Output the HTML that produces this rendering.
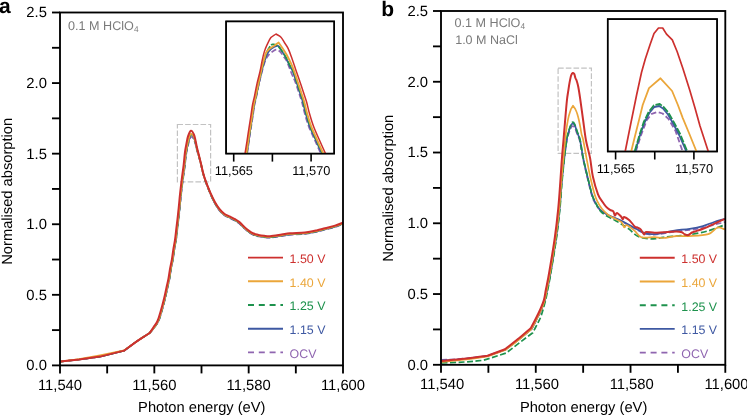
<!DOCTYPE html>
<html><head><meta charset="utf-8"><title>XANES</title>
<style>
html,body{margin:0;padding:0;background:#fff;}
body{width:747px;height:415px;overflow:hidden;font-family:"Liberation Sans",sans-serif;}
svg{display:block;will-change:transform;text-rendering:geometricPrecision;}
</style></head><body>
<svg width="747" height="415" viewBox="0 0 747 415">
<rect width="747" height="415" fill="#fff"/>
<defs>
<clipPath id="ca"><rect x="60.0" y="12.5" width="283.00" height="352.90"/></clipPath>
<clipPath id="cb"><rect x="441.0" y="11.0" width="284.30" height="353.80"/></clipPath>
<clipPath id="cli"><rect x="226.1" y="21.4" width="108.10" height="132.20"/></clipPath>
<clipPath id="cri"><rect x="607.7" y="19.1" width="109.40" height="132.40"/></clipPath>
</defs>
<text x="-1.1" y="12.8" font-size="21" font-weight="bold" font-family="Liberation Sans">a</text>
<text x="381.3" y="15.8" font-size="21" font-weight="bold" font-family="Liberation Sans">b</text>
<rect x="177.4" y="124.5" width="33.2" height="57.3" fill="none" stroke="#c2c2c2" stroke-width="1.2" stroke-dasharray="5.6 2.1"/>
<rect x="558.1" y="68.1" width="33.3" height="85.2" fill="none" stroke="#c2c2c2" stroke-width="1.2" stroke-dasharray="5.6 2.1"/>
<g clip-path="url(#ca)">
<path d="M60.30,361.60 L79.10,359.50 L100.00,356.60 L124.20,350.60 C127.57,348.10 131.18,345.32 134.30,343.10 C137.42,340.88 140.33,338.98 142.90,337.30 C145.47,335.62 147.43,334.43 149.70,333.00 C151.33,331.07 153.12,329.20 154.60,327.20 C156.08,325.20 157.42,323.62 158.60,321.00 C159.78,318.38 160.58,315.33 161.70,311.50 C162.82,307.67 164.32,302.00 165.30,298.00 C166.28,294.00 166.88,290.75 167.60,287.50 C168.32,284.25 169.02,281.58 169.60,278.50 C170.18,275.42 170.53,272.20 171.10,269.00 C171.67,265.80 172.45,262.54 173.00,259.31 C173.55,256.07 173.88,252.82 174.40,249.61 C174.92,246.40 175.60,243.48 176.10,240.04 C176.60,236.61 176.97,232.64 177.40,228.99 C177.83,225.35 178.30,221.67 178.70,218.19 C179.10,214.72 179.38,212.16 179.80,208.14 C180.22,204.11 180.68,198.70 181.20,194.03 C181.72,189.37 182.30,184.68 182.90,180.13 C183.50,175.58 184.27,170.92 184.80,166.75 C185.33,162.59 185.67,158.16 186.10,155.13 C186.53,152.10 186.90,150.83 187.40,148.57 C187.90,146.32 188.50,143.55 189.10,141.59 C189.70,139.62 190.20,137.16 191.00,136.79 C191.80,136.42 193.15,138.14 193.90,139.39 C194.65,140.64 194.98,142.43 195.50,144.28 C196.02,146.14 196.42,148.33 197.00,150.50 C197.58,152.66 198.32,154.83 199.00,157.26 C199.68,159.70 200.45,162.51 201.10,165.11 C201.75,167.72 202.23,170.36 202.90,172.88 C203.57,175.40 204.27,177.78 205.10,180.25 C205.93,182.72 206.93,185.23 207.90,187.71 C208.87,190.19 209.72,192.48 210.90,195.14 C212.08,197.81 213.52,201.07 215.00,203.70 C216.48,206.33 218.20,208.93 219.80,210.90 C221.40,212.87 222.98,214.33 224.60,215.50 C226.22,216.67 227.88,217.10 229.50,217.90 C231.12,218.70 232.70,219.38 234.30,220.30 C235.90,221.22 237.50,222.12 239.10,223.40 C240.70,224.68 242.30,226.55 243.90,228.00 C245.50,229.45 247.10,230.93 248.70,232.10 C250.30,233.27 251.88,234.28 253.50,235.00 C255.12,235.72 256.63,236.02 258.40,236.40 C260.17,236.78 262.17,237.08 264.10,237.30 C266.03,237.52 267.08,237.90 270.00,237.70 C272.92,237.50 278.27,236.58 281.60,236.10 C284.93,235.62 286.10,235.17 290.00,234.80 C293.90,234.43 300.58,234.38 305.00,233.90 C309.42,233.42 313.17,232.60 316.50,231.90 C319.83,231.20 321.92,230.50 325.00,229.70 C328.08,228.90 331.92,228.07 335.00,227.10 C338.08,226.13 340.67,224.97 343.50,223.90" fill="none" stroke="#8f65b0" stroke-width="1.7" stroke-dasharray="5.5 2.5" stroke-linejoin="round"/>
<path d="M60.30,361.60 L79.10,359.50 L100.00,356.60 L124.20,350.60 C127.57,348.10 131.18,345.32 134.30,343.10 C137.42,340.88 140.33,338.98 142.90,337.30 C145.47,335.62 147.43,334.43 149.70,333.00 C151.27,331.07 152.95,329.20 154.40,327.20 C155.85,325.20 157.22,323.62 158.40,321.00 C159.58,318.38 160.38,315.33 161.50,311.50 C162.62,307.67 164.12,302.00 165.10,298.00 C166.08,294.00 166.68,290.75 167.40,287.50 C168.12,284.25 168.82,281.58 169.40,278.50 C169.98,275.42 170.33,272.20 170.90,269.00 C171.47,265.80 172.25,262.54 172.80,259.30 C173.35,256.07 173.68,252.82 174.20,249.61 C174.72,246.40 175.40,243.47 175.90,240.03 C176.40,236.59 176.77,232.61 177.20,228.96 C177.63,225.31 178.10,221.61 178.50,218.12 C178.90,214.63 179.18,212.07 179.60,208.01 C180.02,203.96 180.48,198.52 181.00,193.80 C181.52,189.08 182.10,184.33 182.70,179.68 C183.30,175.03 184.07,170.21 184.60,165.93 C185.13,161.64 185.47,157.13 185.90,153.98 C186.33,150.84 186.70,149.46 187.20,147.08 C187.70,144.70 188.27,141.77 188.90,139.68 C189.53,137.60 190.17,134.94 191.00,134.59 C191.83,134.25 193.15,136.21 193.90,137.60 C194.65,138.98 194.98,140.92 195.50,142.90 C196.02,144.88 196.42,147.19 197.00,149.48 C197.58,151.77 198.32,154.10 199.00,156.64 C199.68,159.19 200.45,162.09 201.10,164.75 C201.75,167.41 202.23,170.07 202.90,172.62 C203.57,175.16 204.27,177.55 205.10,180.02 C205.93,182.49 206.93,184.97 207.90,187.44 C208.87,189.90 209.72,192.17 210.90,194.81 C212.08,197.46 213.52,200.69 215.00,203.30 C216.48,205.91 218.20,208.53 219.80,210.50 C221.40,212.47 222.98,213.93 224.60,215.10 C226.22,216.27 227.88,216.70 229.50,217.50 C231.12,218.30 232.70,218.98 234.30,219.90 C235.90,220.82 237.50,221.72 239.10,223.00 C240.70,224.28 242.30,226.15 243.90,227.60 C245.50,229.05 247.10,230.53 248.70,231.70 C250.30,232.87 251.88,233.88 253.50,234.60 C255.12,235.32 256.63,235.62 258.40,236.00 C260.17,236.38 262.17,236.68 264.10,236.90 C266.03,237.12 267.08,237.50 270.00,237.30 C272.92,237.10 278.27,236.18 281.60,235.70 C284.93,235.22 286.10,234.77 290.00,234.40 C293.90,234.03 300.58,233.98 305.00,233.50 C309.42,233.02 313.17,232.20 316.50,231.50 C319.83,230.80 321.92,230.10 325.00,229.30 C328.08,228.50 331.92,227.67 335.00,226.70 C338.08,225.73 340.67,224.57 343.50,223.50" fill="none" stroke="#3e58a2" stroke-width="1.7" stroke-linejoin="round"/>
<path d="M60.30,361.60 L79.10,359.50 L100.00,356.60 L124.20,350.60 C127.57,348.10 131.18,345.32 134.30,343.10 C137.42,340.88 140.33,338.98 142.90,337.30 C145.47,335.62 147.43,334.43 149.70,333.00 C151.27,331.07 152.95,329.20 154.40,327.20 C155.85,325.20 157.22,323.62 158.40,321.00 C159.58,318.38 160.38,315.33 161.50,311.50 C162.62,307.67 164.12,302.00 165.10,298.00 C166.08,294.00 166.68,290.75 167.40,287.50 C168.12,284.25 168.82,281.58 169.40,278.50 C169.98,275.42 170.33,272.20 170.90,269.00 C171.47,265.80 172.25,262.54 172.80,259.30 C173.35,256.07 173.68,252.82 174.20,249.61 C174.72,246.40 175.40,243.47 175.90,240.03 C176.40,236.58 176.77,232.61 177.20,228.96 C177.63,225.30 178.10,221.61 178.50,218.11 C178.90,214.62 179.18,212.05 179.60,208.00 C180.02,203.94 180.48,198.50 181.00,193.77 C181.52,189.04 182.10,184.28 182.70,179.62 C183.30,174.96 184.07,170.11 184.60,165.81 C185.13,161.52 185.47,156.98 185.90,153.83 C186.33,150.67 186.70,149.28 187.20,146.88 C187.70,144.48 188.27,141.52 188.90,139.43 C189.53,137.33 190.17,134.64 191.00,134.29 C191.83,133.95 193.15,135.95 193.90,137.35 C194.65,138.75 194.98,140.71 195.50,142.71 C196.02,144.70 196.42,147.03 197.00,149.33 C197.58,151.64 198.32,153.98 199.00,156.53 C199.68,159.09 200.45,161.99 201.10,164.66 C201.75,167.32 202.23,169.98 202.90,172.52 C203.57,175.07 204.27,177.45 205.10,179.91 C205.93,182.37 206.93,184.85 207.90,187.30 C208.87,189.76 209.72,192.01 210.90,194.65 C212.08,197.28 213.52,200.49 215.00,203.10 C216.48,205.71 218.20,208.33 219.80,210.30 C221.40,212.27 222.98,213.73 224.60,214.90 C226.22,216.07 227.88,216.50 229.50,217.30 C231.12,218.10 232.70,218.78 234.30,219.70 C235.90,220.62 237.50,221.52 239.10,222.80 C240.70,224.08 242.30,225.95 243.90,227.40 C245.50,228.85 247.10,230.33 248.70,231.50 C250.30,232.67 251.88,233.68 253.50,234.40 C255.12,235.12 256.63,235.42 258.40,235.80 C260.17,236.18 262.17,236.48 264.10,236.70 C266.03,236.92 267.08,237.30 270.00,237.10 C272.92,236.90 278.27,235.98 281.60,235.50 C284.93,235.02 286.10,234.57 290.00,234.20 C293.90,233.83 300.58,233.78 305.00,233.30 C309.42,232.82 313.17,232.00 316.50,231.30 C319.83,230.60 321.92,229.90 325.00,229.10 C328.08,228.30 331.92,227.47 335.00,226.50 C338.08,225.53 340.67,224.37 343.50,223.30" fill="none" stroke="#1e924d" stroke-width="1.7" stroke-dasharray="6 2.5" stroke-linejoin="round"/>
<path d="M60.30,361.60 L79.10,359.11 L100.00,355.30 L124.20,350.35 C127.57,347.93 131.18,345.27 134.30,343.10 C137.42,340.93 140.33,338.98 142.90,337.30 C145.47,335.62 147.43,334.43 149.70,333.00 C151.20,331.07 152.78,329.20 154.20,327.20 C155.62,325.20 157.02,323.62 158.20,321.00 C159.38,318.38 160.18,315.33 161.30,311.50 C162.42,307.67 163.92,302.00 164.90,298.00 C165.88,294.00 166.48,290.75 167.20,287.50 C167.92,284.25 168.62,281.58 169.20,278.50 C169.78,275.42 170.13,272.20 170.70,269.00 C171.27,265.80 172.05,262.53 172.60,259.30 C173.15,256.07 173.48,252.82 174.00,249.61 C174.52,246.39 175.20,243.46 175.70,240.02 C176.20,236.58 176.57,232.60 177.00,228.95 C177.43,225.29 177.90,221.59 178.30,218.10 C178.70,214.60 178.98,212.03 179.40,207.97 C179.82,203.91 180.28,198.46 180.80,193.72 C181.32,188.97 181.90,184.20 182.50,179.52 C183.10,174.83 183.87,169.95 184.40,165.63 C184.93,161.30 185.27,156.75 185.70,153.57 C186.13,150.38 186.50,148.97 187.00,146.54 C187.50,144.11 188.03,141.12 188.70,138.99 C189.37,136.87 190.13,134.14 191.00,133.79 C191.87,133.45 193.15,135.51 193.90,136.94 C194.65,138.38 194.98,140.37 195.50,142.39 C196.02,144.42 196.42,146.77 197.00,149.10 C197.58,151.43 198.32,153.80 199.00,156.37 C199.68,158.95 200.45,161.87 201.10,164.54 C201.75,167.22 202.23,169.88 202.90,172.42 C203.57,174.96 204.27,177.34 205.10,179.80 C205.93,182.26 206.93,184.72 207.90,187.17 C208.87,189.62 209.72,191.86 210.90,194.48 C212.08,197.10 213.52,200.30 215.00,202.90 C216.48,205.50 218.20,208.13 219.80,210.10 C221.40,212.07 222.98,213.53 224.60,214.70 C226.22,215.87 227.88,216.30 229.50,217.10 C231.12,217.90 232.70,218.58 234.30,219.50 C235.90,220.42 237.50,221.32 239.10,222.60 C240.70,223.88 242.30,225.75 243.90,227.20 C245.50,228.65 247.10,230.13 248.70,231.30 C250.30,232.47 251.88,233.48 253.50,234.20 C255.12,234.92 256.63,235.22 258.40,235.60 C260.17,235.98 262.17,236.28 264.10,236.50 C266.03,236.72 267.08,237.10 270.00,236.90 C272.92,236.70 278.27,235.78 281.60,235.30 C284.93,234.82 286.10,234.37 290.00,234.00 C293.90,233.63 300.58,233.58 305.00,233.10 C309.42,232.62 313.17,231.80 316.50,231.10 C319.83,230.40 321.92,229.70 325.00,228.90 C328.08,228.10 331.92,227.27 335.00,226.30 C338.08,225.33 340.67,224.17 343.50,223.10" fill="none" stroke="#eba63a" stroke-width="1.7" stroke-linejoin="round"/>
<path d="M60.30,361.60 L79.10,359.50 L100.00,356.60 L124.20,350.60 C127.57,348.10 131.18,345.32 134.30,343.10 C137.42,340.88 140.33,338.98 142.90,337.30 C145.47,335.62 147.43,334.43 149.70,333.00 C150.97,331.07 152.20,329.20 153.50,327.20 C154.80,325.20 156.32,323.62 157.50,321.00 C158.68,318.38 159.48,315.33 160.60,311.50 C161.72,307.67 163.22,302.00 164.20,298.00 C165.18,294.00 165.78,290.75 166.50,287.50 C167.22,284.25 167.92,281.58 168.50,278.50 C169.08,275.42 169.43,272.20 170.00,269.00 C170.57,265.80 171.35,262.53 171.90,259.30 C172.45,256.07 172.78,252.82 173.30,249.60 C173.82,246.38 174.50,243.45 175.00,240.00 C175.50,236.55 175.87,232.57 176.30,228.90 C176.73,225.23 177.20,221.52 177.60,218.00 C178.00,214.48 178.28,211.90 178.70,207.80 C179.12,203.70 179.58,198.22 180.10,193.40 C180.62,188.58 181.20,183.72 181.80,178.90 C182.40,174.08 183.17,168.98 183.70,164.50 C184.23,160.02 184.57,155.33 185.00,152.00 C185.43,148.67 185.80,147.10 186.30,144.50 C186.80,141.90 187.22,138.68 188.00,136.40 C188.78,134.12 190.02,131.12 191.00,130.80 C191.98,130.48 193.15,132.88 193.90,134.50 C194.65,136.12 194.98,138.30 195.50,140.50 C196.02,142.70 196.42,145.20 197.00,147.70 C197.58,150.20 198.32,152.78 199.00,155.50 C199.68,158.22 200.45,161.25 201.10,164.00 C201.75,166.75 202.23,169.43 202.90,172.00 C203.57,174.57 204.27,176.95 205.10,179.40 C205.93,181.85 206.93,184.28 207.90,186.70 C208.87,189.12 209.72,191.32 210.90,193.90 C212.08,196.48 213.52,199.62 215.00,202.20 C216.48,204.78 218.20,207.43 219.80,209.40 C221.40,211.37 222.98,212.83 224.60,214.00 C226.22,215.17 227.88,215.60 229.50,216.40 C231.12,217.20 232.70,217.88 234.30,218.80 C235.90,219.72 237.50,220.62 239.10,221.90 C240.70,223.18 242.30,225.05 243.90,226.50 C245.50,227.95 247.10,229.43 248.70,230.60 C250.30,231.77 251.88,232.78 253.50,233.50 C255.12,234.22 256.63,234.52 258.40,234.90 C260.17,235.28 262.17,235.58 264.10,235.80 C266.03,236.02 267.08,236.40 270.00,236.20 C272.92,236.00 278.27,235.08 281.60,234.60 C284.93,234.12 286.10,233.67 290.00,233.30 C293.90,232.93 300.58,232.88 305.00,232.40 C309.42,231.92 313.17,231.10 316.50,230.40 C319.83,229.70 321.92,229.00 325.00,228.20 C328.08,227.40 331.92,226.57 335.00,225.60 C338.08,224.63 340.67,223.47 343.50,222.40" fill="none" stroke="#cd302e" stroke-width="2.0" stroke-linejoin="round"/>
</g>
<g clip-path="url(#cb)">
<path d="M441.50,359.90 C449.03,359.47 456.43,359.28 464.10,358.60 C471.77,357.92 479.70,356.73 487.50,355.80 L505.40,349.60 C510.13,346.00 515.25,342.20 519.60,338.80 C523.95,335.40 527.53,332.40 531.50,329.20 C532.77,326.80 534.18,324.17 535.30,322.00 C536.42,319.83 537.28,318.07 538.20,316.20 C539.12,314.33 539.70,313.33 540.80,310.80 C541.90,308.27 543.77,304.47 544.80,301.00 C545.83,297.53 546.23,293.67 547.00,290.00 C547.77,286.33 548.63,282.92 549.40,279.00 C550.17,275.08 550.47,273.38 551.60,266.50 C552.73,259.62 554.87,247.32 556.20,237.70 C557.53,228.08 558.68,218.08 559.60,208.80 C560.52,199.52 560.97,190.13 561.70,182.00 C562.43,173.87 563.18,166.67 564.00,160.00 C564.82,153.33 565.80,146.47 566.60,142.00 C567.40,137.53 568.10,135.53 568.80,133.20 C569.50,130.87 570.15,129.17 570.80,128.00 C571.45,126.83 572.05,126.27 572.70,126.20 C573.35,126.13 573.95,126.30 574.70,127.60 C575.45,128.90 576.35,131.77 577.20,134.00 C578.05,136.23 578.85,136.98 579.80,141.00 C580.75,145.02 581.70,152.23 582.90,158.10 C584.10,163.97 585.57,170.17 587.00,176.20 C588.43,182.23 590.23,190.00 591.50,194.30 C592.77,198.60 593.27,199.47 594.60,202.00 C595.93,204.53 597.23,207.30 599.50,209.50 C601.77,211.70 604.53,213.25 608.20,215.20 C611.87,217.15 617.08,218.98 621.50,221.20 C625.92,223.42 630.73,226.40 634.70,228.50 C638.67,230.60 641.98,232.78 645.30,233.80 C648.62,234.82 651.50,234.67 654.60,234.60 C657.70,234.53 660.58,233.92 663.90,233.40 C667.22,232.88 670.20,232.07 674.50,231.50 C678.80,230.93 684.95,230.62 689.70,230.00 C694.45,229.38 699.02,228.67 703.00,227.80 C706.98,226.93 709.97,225.77 713.60,224.80 C717.23,223.83 721.07,222.93 724.80,222.00" fill="none" stroke="#8f65b0" stroke-width="1.7" stroke-dasharray="5.5 2.5" stroke-linejoin="round"/>
<path d="M441.50,360.70 C449.03,360.13 456.43,359.78 464.10,359.00 C471.77,358.22 479.70,357.00 487.50,356.00 L505.40,349.80 C510.13,346.13 515.25,342.23 519.60,338.80 C523.95,335.37 527.53,332.40 531.50,329.20 C532.77,326.80 534.18,324.17 535.30,322.00 C536.42,319.83 537.28,318.07 538.20,316.20 C539.12,314.33 539.70,313.33 540.80,310.80 C541.90,308.27 543.77,304.47 544.80,301.00 C545.83,297.53 546.23,293.67 547.00,290.00 C547.77,286.33 548.63,282.92 549.40,279.00 C550.17,275.08 550.47,273.38 551.60,266.50 C552.73,259.62 554.87,247.32 556.20,237.70 C557.53,228.08 558.68,218.08 559.60,208.80 C560.52,199.52 560.97,190.13 561.70,182.00 C562.43,173.87 563.18,167.00 564.00,160.00 C564.82,153.00 565.78,144.83 566.60,140.00 C567.42,135.17 568.17,133.45 568.90,131.00 C569.63,128.55 570.37,126.53 571.00,125.30 C571.63,124.07 572.08,123.65 572.70,123.60 C573.32,123.55 573.95,123.52 574.70,125.00 C575.45,126.48 576.30,129.92 577.20,132.50 C578.10,135.08 579.10,136.23 580.10,140.50 C581.10,144.77 581.98,152.15 583.20,158.10 C584.42,164.05 585.95,170.17 587.40,176.20 C588.85,182.23 590.63,190.00 591.90,194.30 C593.17,198.60 593.65,199.47 595.00,202.00 C596.35,204.53 597.80,207.35 600.00,209.50 C602.20,211.65 604.62,213.02 608.20,214.90 C611.78,216.78 617.08,218.60 621.50,220.80 C625.92,223.00 630.73,226.00 634.70,228.10 C638.67,230.20 641.98,232.40 645.30,233.40 C648.62,234.40 651.50,234.22 654.60,234.10 C657.70,233.98 660.58,233.30 663.90,232.70 C667.22,232.10 670.20,231.15 674.50,230.50 C678.80,229.85 684.95,229.53 689.70,228.80 C694.45,228.07 699.02,227.20 703.00,226.10 C706.98,225.00 709.97,223.42 713.60,222.20 C717.23,220.98 721.07,219.93 724.80,218.80" fill="none" stroke="#3e58a2" stroke-width="1.7" stroke-linejoin="round"/>
<path d="M441.50,363.00 C449.03,362.67 457.12,362.45 464.10,362.00 C471.08,361.55 476.97,360.87 483.40,360.30 L506.30,353.00 C510.63,349.63 514.88,346.27 519.30,342.90 C523.72,339.53 528.30,336.17 532.80,332.80 C533.87,330.70 535.05,328.35 536.00,326.50 C536.95,324.65 537.60,323.62 538.50,321.70 C539.40,319.78 540.22,318.60 541.40,315.00 C542.58,311.40 544.55,304.27 545.60,300.10 C546.65,295.93 547.00,293.52 547.70,290.00 C548.40,286.48 549.10,282.92 549.80,279.00 C550.50,275.08 550.78,273.38 551.90,266.50 C553.02,259.62 555.17,247.32 556.50,237.70 C557.83,228.08 558.98,218.08 559.90,208.80 C560.82,199.52 561.28,190.13 562.00,182.00 C562.72,173.87 563.40,167.17 564.20,160.00 C565.00,152.83 565.97,144.08 566.80,139.00 C567.63,133.92 568.47,132.00 569.20,129.50 C569.93,127.00 570.60,125.22 571.20,124.00 C571.80,122.78 572.23,122.20 572.80,122.20 C573.37,122.20 573.87,122.45 574.60,124.00 C575.33,125.55 576.28,128.83 577.20,131.50 C578.12,134.17 579.10,135.57 580.10,140.00 C581.10,144.43 581.98,152.07 583.20,158.10 C584.42,164.13 585.95,170.17 587.40,176.20 C588.85,182.23 590.63,190.08 591.90,194.30 C593.17,198.52 593.60,198.73 595.00,201.50 C596.40,204.27 598.10,208.33 600.30,210.90 C602.50,213.47 605.77,215.35 608.20,216.90 C610.63,218.45 612.60,218.93 614.90,220.20 C617.20,221.47 619.58,222.97 622.00,224.50 C624.42,226.03 626.83,227.47 629.40,229.40 C631.97,231.33 634.30,234.55 637.40,236.10 C640.50,237.65 644.92,238.27 648.00,238.70 C651.08,239.13 653.37,238.92 655.90,238.70 C658.43,238.48 659.77,237.85 663.20,237.40 C666.63,236.95 672.08,236.45 676.50,236.00 C680.92,235.55 684.40,235.57 689.70,234.70 C695.00,233.83 702.45,232.45 708.30,230.80 C714.15,229.15 719.30,226.80 724.80,224.80" fill="none" stroke="#1e924d" stroke-width="1.7" stroke-dasharray="6 2.5" stroke-linejoin="round"/>
<path d="M441.50,361.90 C449.03,361.13 456.43,360.50 464.10,359.60 C471.77,358.70 479.70,357.53 487.50,356.50 L505.40,350.00 C510.13,346.33 515.27,342.50 519.60,339.00 C523.93,335.50 527.47,332.33 531.40,329.00 C532.70,326.60 534.17,323.97 535.30,321.80 C536.43,319.63 537.28,317.88 538.20,316.00 C539.12,314.12 539.75,312.98 540.80,310.50 C541.85,308.02 543.52,304.52 544.50,301.10 C545.48,297.68 545.97,293.68 546.70,290.00 C547.43,286.32 548.17,282.92 548.90,279.00 C549.63,275.08 549.97,273.38 551.10,266.50 C552.23,259.62 554.35,247.32 555.70,237.70 C557.05,228.08 558.27,218.08 559.20,208.80 C560.13,199.52 560.62,190.13 561.30,182.00 C561.98,173.87 562.68,166.83 563.30,160.00 C563.92,153.17 564.57,145.53 565.00,141.00 C565.43,136.47 565.55,135.53 565.90,132.80 C566.25,130.07 566.63,127.33 567.10,124.60 C567.57,121.87 568.08,118.93 568.70,116.40 C569.32,113.87 570.10,111.73 570.80,109.40 L573.00,105.70 L575.30,109.00 C575.97,110.63 576.68,111.98 577.30,113.90 C577.92,115.82 578.45,118.03 579.00,120.50 C579.55,122.97 580.17,126.37 580.60,128.70 C581.03,131.03 581.17,132.62 581.60,134.50 C582.03,136.38 582.38,136.07 583.20,140.00 C584.02,143.93 585.35,152.07 586.50,158.10 C587.65,164.13 588.75,170.17 590.10,176.20 C591.45,182.23 593.37,190.07 594.60,194.30 C595.83,198.53 596.28,199.18 597.50,201.60 C598.72,204.02 600.12,206.58 601.90,208.80 C603.68,211.02 606.10,213.28 608.20,214.90 C610.30,216.52 612.28,217.28 614.50,218.50 C616.72,219.72 619.90,220.73 621.50,222.20 C623.10,223.67 623.22,226.80 624.10,227.30 C624.98,227.80 625.03,224.62 626.80,225.20 C628.57,225.78 632.27,228.80 634.70,230.80 C637.13,232.80 638.08,236.15 641.40,237.20 C644.72,238.25 650.97,236.97 654.60,237.10 C658.23,237.23 659.55,238.17 663.20,238.00 C666.85,237.83 672.08,236.42 676.50,236.10 C680.92,235.78 684.40,236.43 689.70,236.10 C695.00,235.77 703.67,235.53 708.30,234.10 C712.93,232.67 714.75,228.28 717.50,227.50 C720.25,226.72 722.37,228.77 724.80,229.40" fill="none" stroke="#eba63a" stroke-width="1.7" stroke-linejoin="round"/>
<path d="M441.50,361.00 C449.03,360.27 456.43,359.68 464.10,358.80 C471.77,357.92 479.70,356.73 487.50,355.70 L505.00,349.20 C509.77,345.50 514.98,341.63 519.30,338.10 C523.62,334.57 527.03,331.37 530.90,328.00 C532.17,325.60 533.58,322.97 534.70,320.80 C535.82,318.63 536.68,316.88 537.60,315.00 C538.52,313.12 539.15,311.98 540.20,309.50 C541.25,307.02 542.97,303.35 543.90,300.10 C544.83,296.85 545.12,293.52 545.80,290.00 C546.48,286.48 547.27,282.92 548.00,279.00 C548.73,275.08 549.07,273.38 550.20,266.50 C551.33,259.62 553.47,247.32 554.80,237.70 C556.13,228.08 557.28,218.08 558.20,208.80 C559.12,199.52 559.70,190.13 560.30,182.00 C560.90,173.87 561.27,167.00 561.80,160.00 C562.33,153.00 562.97,146.33 563.50,140.00 C564.03,133.67 564.43,128.58 565.00,122.00 C565.57,115.42 566.35,105.73 566.90,100.50 C567.45,95.27 567.85,93.62 568.30,90.60 C568.75,87.58 569.12,84.97 569.60,82.40 C570.08,79.83 570.67,76.77 571.20,75.20 C571.73,73.63 572.28,73.20 572.80,73.00 C573.32,72.80 573.87,73.17 574.30,74.00 C574.73,74.83 575.03,76.97 575.40,78.00 C575.77,79.03 576.13,79.47 576.50,80.20 C577.07,82.30 577.58,83.40 578.20,86.50 C578.82,89.60 579.38,93.22 580.20,98.80 C581.02,104.38 582.13,113.05 583.10,120.00 C584.07,126.95 584.83,134.15 586.00,140.50 C587.17,146.85 588.97,152.15 590.10,158.10 C591.23,164.05 591.48,170.17 592.80,176.20 C594.12,182.23 596.37,190.00 598.00,194.30 C599.63,198.60 601.27,199.95 602.60,202.00 C603.93,204.05 604.77,205.30 606.00,206.60 C607.23,207.90 608.78,209.00 610.00,209.80 C611.22,210.60 612.48,210.43 613.30,211.40 C614.12,212.37 614.30,215.35 614.90,215.60 C615.50,215.85 615.92,212.80 616.90,212.90 C617.88,213.00 619.82,215.15 620.80,216.20 C621.78,217.25 622.25,219.08 622.80,219.20 C623.35,219.32 623.00,216.73 624.10,216.90 C625.20,217.07 627.63,218.62 629.40,220.20 C631.17,221.78 633.37,225.18 634.70,226.40 C636.03,227.62 636.40,227.00 637.40,227.50 C638.40,228.00 639.60,228.27 640.70,229.40 C641.80,230.53 643.12,233.85 644.00,234.30 C644.88,234.75 644.23,232.37 646.00,232.10 C647.77,231.83 651.62,232.68 654.60,232.70 C657.58,232.72 660.25,232.38 663.90,232.20 C667.55,232.02 673.52,231.58 676.50,231.60 C679.48,231.62 680.47,231.87 681.80,232.30 C683.13,232.73 683.47,233.72 684.50,234.20 C685.53,234.68 686.75,235.48 688.00,235.20 C689.25,234.92 690.67,233.17 692.00,232.50 C693.33,231.83 694.17,231.82 696.00,231.20 C697.83,230.58 700.07,229.98 703.00,228.80 C705.93,227.62 709.97,225.77 713.60,224.10 C717.23,222.43 721.07,220.57 724.80,218.80" fill="none" stroke="#cd302e" stroke-width="2.0" stroke-linejoin="round"/>
</g>
<rect x="60.0" y="12.5" width="283.00" height="352.90" fill="none" stroke="#000" stroke-width="1.85"/>
<line x1="52.0" y1="365.40" x2="60.0" y2="365.40" stroke="#000" stroke-width="1.85"/>
<text x="46.9" y="370.30" font-size="14.8" text-anchor="end" font-family="Liberation Sans">0.0</text>
<line x1="52.0" y1="330.11" x2="60.0" y2="330.11" stroke="#000" stroke-width="1.85"/>
<line x1="52.0" y1="294.82" x2="60.0" y2="294.82" stroke="#000" stroke-width="1.85"/>
<text x="46.9" y="299.72" font-size="14.8" text-anchor="end" font-family="Liberation Sans">0.5</text>
<line x1="52.0" y1="259.53" x2="60.0" y2="259.53" stroke="#000" stroke-width="1.85"/>
<line x1="52.0" y1="224.24" x2="60.0" y2="224.24" stroke="#000" stroke-width="1.85"/>
<text x="46.9" y="229.14" font-size="14.8" text-anchor="end" font-family="Liberation Sans">1.0</text>
<line x1="52.0" y1="188.95" x2="60.0" y2="188.95" stroke="#000" stroke-width="1.85"/>
<line x1="52.0" y1="153.66" x2="60.0" y2="153.66" stroke="#000" stroke-width="1.85"/>
<text x="46.9" y="158.56" font-size="14.8" text-anchor="end" font-family="Liberation Sans">1.5</text>
<line x1="52.0" y1="118.37" x2="60.0" y2="118.37" stroke="#000" stroke-width="1.85"/>
<line x1="52.0" y1="83.08" x2="60.0" y2="83.08" stroke="#000" stroke-width="1.85"/>
<text x="46.9" y="87.98" font-size="14.8" text-anchor="end" font-family="Liberation Sans">2.0</text>
<line x1="52.0" y1="47.79" x2="60.0" y2="47.79" stroke="#000" stroke-width="1.85"/>
<line x1="52.0" y1="12.50" x2="60.0" y2="12.50" stroke="#000" stroke-width="1.85"/>
<text x="46.9" y="17.40" font-size="14.8" text-anchor="end" font-family="Liberation Sans">2.5</text>
<line x1="60.00" y1="365.4" x2="60.00" y2="373.4" stroke="#000" stroke-width="1.85"/>
<text x="60.00" y="390.00" font-size="14.8" text-anchor="middle" font-family="Liberation Sans">11,540</text>
<line x1="107.17" y1="365.4" x2="107.17" y2="373.4" stroke="#000" stroke-width="1.85"/>
<line x1="154.33" y1="365.4" x2="154.33" y2="373.4" stroke="#000" stroke-width="1.85"/>
<text x="154.33" y="390.00" font-size="14.8" text-anchor="middle" font-family="Liberation Sans">11,560</text>
<line x1="201.50" y1="365.4" x2="201.50" y2="373.4" stroke="#000" stroke-width="1.85"/>
<line x1="248.67" y1="365.4" x2="248.67" y2="373.4" stroke="#000" stroke-width="1.85"/>
<text x="248.67" y="390.00" font-size="14.8" text-anchor="middle" font-family="Liberation Sans">11,580</text>
<line x1="295.83" y1="365.4" x2="295.83" y2="373.4" stroke="#000" stroke-width="1.85"/>
<line x1="343.00" y1="365.4" x2="343.00" y2="373.4" stroke="#000" stroke-width="1.85"/>
<text x="343.00" y="390.00" font-size="14.8" text-anchor="middle" font-family="Liberation Sans">11,600</text>
<rect x="441.0" y="11.0" width="284.30" height="353.80" fill="none" stroke="#000" stroke-width="1.85"/>
<line x1="433.0" y1="364.80" x2="441.0" y2="364.80" stroke="#000" stroke-width="1.85"/>
<text x="428.1" y="369.70" font-size="14.8" text-anchor="end" font-family="Liberation Sans">0.0</text>
<line x1="433.0" y1="329.42" x2="441.0" y2="329.42" stroke="#000" stroke-width="1.85"/>
<line x1="433.0" y1="294.04" x2="441.0" y2="294.04" stroke="#000" stroke-width="1.85"/>
<text x="428.1" y="298.94" font-size="14.8" text-anchor="end" font-family="Liberation Sans">0.5</text>
<line x1="433.0" y1="258.66" x2="441.0" y2="258.66" stroke="#000" stroke-width="1.85"/>
<line x1="433.0" y1="223.28" x2="441.0" y2="223.28" stroke="#000" stroke-width="1.85"/>
<text x="428.1" y="228.18" font-size="14.8" text-anchor="end" font-family="Liberation Sans">1.0</text>
<line x1="433.0" y1="187.90" x2="441.0" y2="187.90" stroke="#000" stroke-width="1.85"/>
<line x1="433.0" y1="152.52" x2="441.0" y2="152.52" stroke="#000" stroke-width="1.85"/>
<text x="428.1" y="157.42" font-size="14.8" text-anchor="end" font-family="Liberation Sans">1.5</text>
<line x1="433.0" y1="117.14" x2="441.0" y2="117.14" stroke="#000" stroke-width="1.85"/>
<line x1="433.0" y1="81.76" x2="441.0" y2="81.76" stroke="#000" stroke-width="1.85"/>
<text x="428.1" y="86.66" font-size="14.8" text-anchor="end" font-family="Liberation Sans">2.0</text>
<line x1="433.0" y1="46.38" x2="441.0" y2="46.38" stroke="#000" stroke-width="1.85"/>
<line x1="433.0" y1="11.00" x2="441.0" y2="11.00" stroke="#000" stroke-width="1.85"/>
<text x="428.1" y="15.90" font-size="14.8" text-anchor="end" font-family="Liberation Sans">2.5</text>
<line x1="441.00" y1="364.8" x2="441.00" y2="372.8" stroke="#000" stroke-width="1.85"/>
<text x="442.20" y="389.40" font-size="14.8" text-anchor="middle" font-family="Liberation Sans">11,540</text>
<line x1="488.38" y1="364.8" x2="488.38" y2="372.8" stroke="#000" stroke-width="1.85"/>
<line x1="535.77" y1="364.8" x2="535.77" y2="372.8" stroke="#000" stroke-width="1.85"/>
<text x="536.97" y="389.40" font-size="14.8" text-anchor="middle" font-family="Liberation Sans">11,560</text>
<line x1="583.15" y1="364.8" x2="583.15" y2="372.8" stroke="#000" stroke-width="1.85"/>
<line x1="630.53" y1="364.8" x2="630.53" y2="372.8" stroke="#000" stroke-width="1.85"/>
<text x="631.73" y="389.40" font-size="14.8" text-anchor="middle" font-family="Liberation Sans">11,580</text>
<line x1="677.92" y1="364.8" x2="677.92" y2="372.8" stroke="#000" stroke-width="1.85"/>
<line x1="725.30" y1="364.8" x2="725.30" y2="372.8" stroke="#000" stroke-width="1.85"/>
<text x="726.50" y="389.40" font-size="14.8" text-anchor="middle" font-family="Liberation Sans">11,600</text>
<rect x="226.1" y="21.4" width="108.10" height="132.20" fill="#fff" stroke="#000" stroke-width="1.5"/>
<line x1="233.70" y1="153.6" x2="233.70" y2="161.6" stroke="#000" stroke-width="1.6"/>
<line x1="272.40" y1="153.6" x2="272.40" y2="161.6" stroke="#000" stroke-width="1.6"/>
<line x1="311.10" y1="153.6" x2="311.10" y2="161.6" stroke="#000" stroke-width="1.6"/>
<text x="233.90" y="174.60" font-size="12.8" text-anchor="middle" font-family="Liberation Sans">11,565</text>
<text x="311.30" y="174.60" font-size="12.8" text-anchor="middle" font-family="Liberation Sans">11,570</text>
<g clip-path="url(#cli)">
<path d="M247.20,153.60 C247.80,149.43 248.40,145.18 249.00,141.10 C249.60,137.02 250.18,133.12 250.80,129.10 C251.42,125.08 252.08,121.02 252.70,117.00 C253.32,112.98 253.87,108.48 254.50,105.00 C255.13,101.52 255.77,99.58 256.50,96.10 C257.23,92.62 258.00,88.12 258.90,84.10 C259.80,80.08 260.78,76.05 261.90,72.00 C263.02,67.95 264.33,62.80 265.60,59.80 C266.87,56.80 268.22,55.45 269.50,54.00 C270.78,52.55 272.10,51.82 273.30,51.10 C274.50,50.38 275.58,49.62 276.70,49.70 C277.82,49.78 278.80,50.40 280.00,51.60 C281.20,52.80 282.77,55.30 283.90,56.90 C285.03,58.50 285.45,58.27 286.80,61.20 C288.15,64.13 290.60,71.08 292.00,74.50 C293.40,77.92 294.07,78.70 295.20,81.70 C296.33,84.70 297.68,89.12 298.80,92.50 C299.92,95.88 300.92,98.53 301.90,102.00 C302.88,105.47 303.55,109.20 304.70,113.30 C305.85,117.40 307.13,122.18 308.80,126.60 C310.47,131.02 312.70,135.30 314.70,139.80 C316.70,144.30 318.77,149.00 320.80,153.60" fill="none" stroke="#8f65b0" stroke-width="1.7" stroke-dasharray="5.5 2.6" stroke-linejoin="round"/>
<path d="M246.80,153.60 C247.40,149.43 248.00,145.18 248.60,141.10 C249.20,137.02 249.78,133.12 250.40,129.10 C251.02,125.08 251.68,121.02 252.30,117.00 C252.92,112.98 253.45,108.48 254.10,105.00 C254.75,101.52 255.43,99.58 256.20,96.10 C256.97,92.62 257.82,88.12 258.70,84.10 C259.58,80.08 260.70,75.25 261.50,72.00 C262.30,68.75 262.58,67.52 263.50,64.60 C264.42,61.68 265.67,57.18 267.00,54.50 C268.33,51.82 269.65,49.93 271.50,48.50 C273.35,47.07 276.35,45.43 278.10,45.90 C279.85,46.37 280.68,49.32 282.00,51.30 C283.32,53.28 284.67,55.27 286.00,57.80 C287.33,60.33 288.90,64.33 290.00,66.50 C291.10,68.67 291.55,68.27 292.60,70.80 C293.65,73.33 295.10,78.08 296.30,81.70 C297.50,85.32 298.70,89.12 299.80,92.50 C300.90,95.88 301.92,98.53 302.90,102.00 C303.88,105.47 304.55,109.20 305.70,113.30 C306.85,117.40 308.13,122.18 309.80,126.60 C311.47,131.02 313.68,135.30 315.70,139.80 C317.72,144.30 319.83,149.00 321.90,153.60" fill="none" stroke="#3e58a2" stroke-width="1.7" stroke-linejoin="round"/>
<path d="M246.60,153.60 C247.20,149.43 247.80,145.18 248.40,141.10 C249.00,137.02 249.58,133.12 250.20,129.10 C250.82,125.08 251.48,121.02 252.10,117.00 C252.72,112.98 253.25,108.48 253.90,105.00 C254.55,101.52 255.23,99.58 256.00,96.10 C256.77,92.62 257.63,88.12 258.50,84.10 C259.37,80.08 260.45,75.25 261.20,72.00 C261.95,68.75 262.13,67.77 263.00,64.60 C263.87,61.43 265.08,56.22 266.40,53.00 C267.72,49.78 269.67,46.73 270.90,45.30 C272.13,43.87 272.70,44.32 273.80,44.40 C274.90,44.48 276.13,44.70 277.50,45.80 C278.87,46.90 280.58,49.05 282.00,51.00 C283.42,52.95 284.63,55.00 286.00,57.50 C287.37,60.00 289.03,63.78 290.20,66.00 C291.37,68.22 291.92,68.18 293.00,70.80 C294.08,73.42 295.50,78.08 296.70,81.70 C297.90,85.32 299.10,89.12 300.20,92.50 C301.30,95.88 302.32,98.53 303.30,102.00 C304.28,105.47 304.93,109.20 306.10,113.30 C307.27,117.40 308.62,122.18 310.30,126.60 C311.98,131.02 314.18,135.30 316.20,139.80 C318.22,144.30 320.33,149.00 322.40,153.60" fill="none" stroke="#1e924d" stroke-width="1.7" stroke-dasharray="7 1.6" stroke-linejoin="round"/>
<path d="M246.40,153.60 C247.00,149.43 247.60,145.18 248.20,141.10 C248.80,137.02 249.38,133.12 250.00,129.10 C250.62,125.08 251.28,121.02 251.90,117.00 C252.52,112.98 253.05,108.48 253.70,105.00 C254.35,101.52 255.03,99.58 255.80,96.10 C256.57,92.62 257.45,88.12 258.30,84.10 C259.15,80.08 260.18,75.25 260.90,72.00 C261.62,68.75 261.73,67.83 262.60,64.60 C263.47,61.37 264.93,56.60 266.10,52.60 C267.23,51.30 268.13,49.83 269.50,48.70 C270.87,47.57 272.78,46.83 274.30,45.80 C275.82,44.77 277.17,43.60 278.60,42.50 C280.03,44.57 281.53,46.62 282.90,48.70 C284.27,50.78 285.35,52.35 286.80,55.00 C288.25,57.65 290.40,61.97 291.60,64.60 C292.80,67.23 292.98,67.95 294.00,70.80 C295.02,73.65 296.50,78.08 297.70,81.70 C298.90,85.32 300.10,89.12 301.20,92.50 C302.30,95.88 303.32,98.53 304.30,102.00 C305.28,105.47 305.93,109.20 307.10,113.30 C308.27,117.40 309.63,122.18 311.30,126.60 C312.97,131.02 315.10,135.30 317.10,139.80 C319.10,144.30 321.23,149.00 323.30,153.60" fill="none" stroke="#eba63a" stroke-width="1.9" stroke-linejoin="round"/>
<path d="M245.00,153.60 C245.67,149.43 246.37,145.18 247.00,141.10 C247.63,137.02 248.18,133.12 248.80,129.10 C249.42,125.08 250.08,121.02 250.70,117.00 C251.32,112.98 251.87,108.48 252.50,105.00 C253.13,101.52 253.77,99.58 254.50,96.10 C255.23,92.62 256.00,88.12 256.90,84.10 C257.80,80.08 259.00,76.02 259.90,72.00 C260.80,67.98 261.58,63.32 262.30,60.00 C263.02,56.68 263.42,54.62 264.20,52.10 C264.98,49.58 265.88,47.32 267.00,44.90 C268.12,42.48 269.40,39.42 270.90,37.60 C272.40,35.78 274.30,35.20 276.00,34.00 C277.67,35.07 279.60,35.78 281.00,37.20 C282.40,38.62 283.20,40.60 284.40,42.50 C285.60,44.40 286.88,45.77 288.20,48.60 C289.52,51.43 290.98,55.80 292.30,59.50 C293.62,63.20 294.83,67.10 296.10,70.80 C297.37,74.50 298.67,78.08 299.90,81.70 C301.13,85.32 302.38,89.12 303.50,92.50 C304.62,95.88 305.62,98.53 306.60,102.00 C307.58,105.47 308.23,109.20 309.40,113.30 C310.57,117.40 311.95,122.18 313.60,126.60 C315.25,131.02 317.32,135.30 319.30,139.80 C321.28,144.30 323.43,149.00 325.50,153.60" fill="none" stroke="#cd302e" stroke-width="1.5" stroke-linejoin="round"/>
</g>
<rect x="226.1" y="21.4" width="108.10" height="132.20" fill="none" stroke="#000" stroke-width="1.5"/>
<rect x="607.7" y="19.1" width="109.40" height="132.40" fill="#fff" stroke="#000" stroke-width="1.5"/>
<line x1="615.60" y1="151.5" x2="615.60" y2="159.5" stroke="#000" stroke-width="1.6"/>
<line x1="654.75" y1="151.5" x2="654.75" y2="159.5" stroke="#000" stroke-width="1.6"/>
<line x1="693.90" y1="151.5" x2="693.90" y2="159.5" stroke="#000" stroke-width="1.6"/>
<text x="615.80" y="172.50" font-size="12.8" text-anchor="middle" font-family="Liberation Sans">11,565</text>
<text x="694.10" y="172.50" font-size="12.8" text-anchor="middle" font-family="Liberation Sans">11,570</text>
<g clip-path="url(#cri)">
<path d="M635.80,151.50 L640.90,135.50 L646.70,120.30 L651.70,113.80 L657.50,112.10 L662.60,113.50 L668.40,118.80 L675.60,131.10 L682.10,149.90 L682.50,151.50" fill="none" stroke="#8f65b0" stroke-width="1.8" stroke-dasharray="5.5 2.6" stroke-linejoin="round"/>
<path d="M635.20,151.50 L639.90,135.50 L644.30,123.00 L649.30,113.00 L654.30,107.00 L659.20,106.00 L663.00,108.50 L668.00,114.50 L673.70,124.50 L679.40,135.50 L686.30,151.50" fill="none" stroke="#3e58a2" stroke-width="1.8" stroke-linejoin="round"/>
<path d="M634.80,150.90 L639.50,134.90 L643.80,121.90 L648.80,111.70 L653.90,105.20 L659.70,104.00 L663.30,106.70 L668.40,112.50 L674.10,122.60 L679.90,133.40 L687.10,150.90" fill="none" stroke="#1e924d" stroke-width="1.8" stroke-dasharray="7 1.6" stroke-linejoin="round"/>
<path d="M631.20,151.50 L635.50,134.00 L639.50,118.10 L642.70,105.00 L649.00,88.10 L660.50,78.30 L672.10,91.00 L677.90,105.00 L682.80,118.10 L689.00,133.00 L696.50,151.50" fill="none" stroke="#eba63a" stroke-width="1.8" stroke-linejoin="round"/>
<path d="M625.20,151.50 L630.50,125.00 L636.60,95.00 L641.50,72.50 L645.30,59.00 L650.10,44.50 L654.00,33.50 L658.50,28.00 L662.70,28.00 L666.50,34.10 L672.30,39.90 L677.10,51.50 L682.90,68.50 L689.70,90.00 L695.00,108.00 L700.00,126.00 L708.30,151.50" fill="none" stroke="#cd302e" stroke-width="1.7" stroke-linejoin="round"/>
</g>
<rect x="607.7" y="19.1" width="109.40" height="132.40" fill="none" stroke="#000" stroke-width="1.5"/>
<text x="68.1" y="29.8" font-size="12.6" fill="#7a7a7a" font-family="Liberation Sans">0.1 M HClO<tspan font-size="8.3" dy="1.9">4</tspan></text>
<text x="454.6" y="26.7" font-size="12.6" fill="#7a7a7a" font-family="Liberation Sans">0.1 M HClO<tspan font-size="8.3" dy="1.9">4</tspan></text>
<text x="455.2" y="43.7" font-size="12.5" fill="#7a7a7a" font-family="Liberation Sans">1.0 M NaCl</text>
<line x1="248.0" y1="257.60" x2="283.0" y2="257.60" stroke="#cd302e" stroke-width="1.9"/>
<text x="289.6" y="263.00" font-size="12.4" fill="#cd302e" font-family="Liberation Sans">1.50 V</text>
<line x1="248.0" y1="281.30" x2="283.0" y2="281.30" stroke="#eba63a" stroke-width="1.9"/>
<text x="289.6" y="286.70" font-size="12.4" fill="#eba63a" font-family="Liberation Sans">1.40 V</text>
<line x1="248.0" y1="305.00" x2="283.0" y2="305.00" stroke="#1e924d" stroke-width="1.9" stroke-dasharray="6 4.8"/>
<text x="289.6" y="310.40" font-size="12.4" fill="#1e924d" font-family="Liberation Sans">1.25 V</text>
<line x1="248.0" y1="328.70" x2="283.0" y2="328.70" stroke="#3e58a2" stroke-width="1.9"/>
<text x="289.6" y="334.10" font-size="12.4" fill="#3e58a2" font-family="Liberation Sans">1.15 V</text>
<line x1="248.0" y1="352.40" x2="283.0" y2="352.40" stroke="#8f65b0" stroke-width="1.9" stroke-dasharray="6 4.8"/>
<text x="289.6" y="357.80" font-size="12.4" fill="#8f65b0" font-family="Liberation Sans">OCV</text>
<line x1="639.8" y1="257.80" x2="674.7" y2="257.80" stroke="#cd302e" stroke-width="1.9"/>
<text x="681.3" y="263.20" font-size="12.4" fill="#cd302e" font-family="Liberation Sans">1.50 V</text>
<line x1="639.8" y1="281.50" x2="674.7" y2="281.50" stroke="#eba63a" stroke-width="1.9"/>
<text x="681.3" y="286.90" font-size="12.4" fill="#eba63a" font-family="Liberation Sans">1.40 V</text>
<line x1="639.8" y1="305.20" x2="674.7" y2="305.20" stroke="#1e924d" stroke-width="1.9" stroke-dasharray="6 4.8"/>
<text x="681.3" y="310.60" font-size="12.4" fill="#1e924d" font-family="Liberation Sans">1.25 V</text>
<line x1="639.8" y1="328.90" x2="674.7" y2="328.90" stroke="#3e58a2" stroke-width="1.9"/>
<text x="681.3" y="334.30" font-size="12.4" fill="#3e58a2" font-family="Liberation Sans">1.15 V</text>
<line x1="639.8" y1="352.60" x2="674.7" y2="352.60" stroke="#8f65b0" stroke-width="1.9" stroke-dasharray="6 4.8"/>
<text x="681.3" y="358.00" font-size="12.4" fill="#8f65b0" font-family="Liberation Sans">OCV</text>
<text x="201.8" y="411.6" font-size="14.7" text-anchor="middle" font-family="Liberation Sans">Photon energy (eV)</text>
<text x="583.6" y="411.9" font-size="14.7" text-anchor="middle" font-family="Liberation Sans">Photon energy (eV)</text>
<text transform="translate(12.0,191.3) rotate(-90)" x="0" y="0" font-size="14.7" text-anchor="middle" font-family="Liberation Sans">Normalised absorption</text>
<text transform="translate(393.3,188.2) rotate(-90)" x="0" y="0" font-size="14.7" text-anchor="middle" font-family="Liberation Sans">Normalised absorption</text>
</svg>
</body></html>
